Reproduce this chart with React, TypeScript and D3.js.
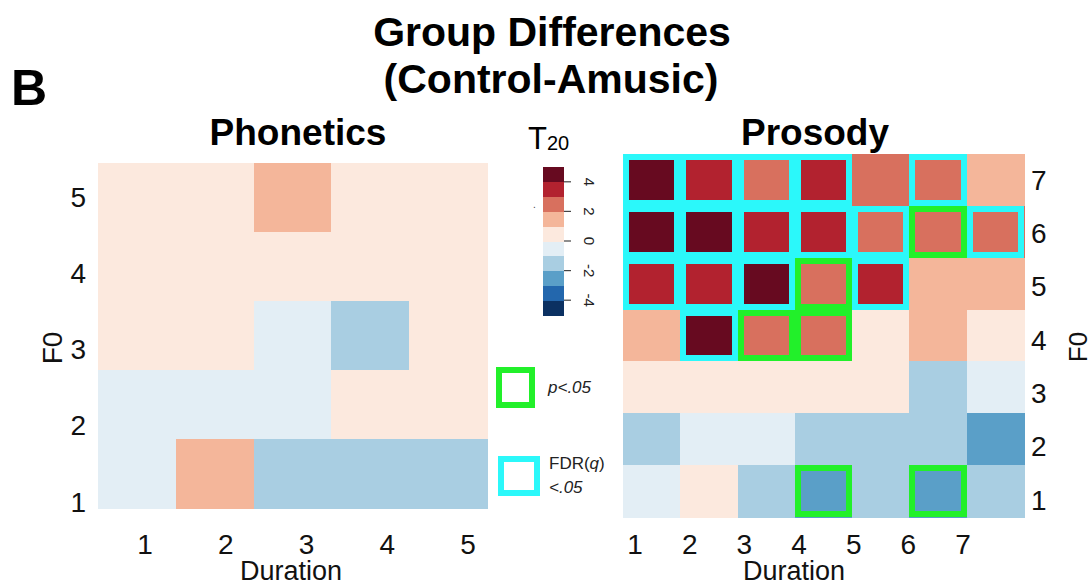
import React from "react";
import * as d3 from "d3";

// ---------- data ----------
const phonDuration = [1, 2, 3, 4, 5];
const phonF0 = [5, 4, 3, 2, 1]; // rows top -> bottom
const phoneticsT = [
  [0.4, 0.5, 1.3, 0.4, 0.3],
  [0.5, 0.4, 0.6, 0.3, 0.4],
  [0.3, 0.5, -0.4, -1.2, 0.5],
  [-0.6, -0.3, -0.5, 0.4, 0.3],
  [-0.5, 1.2, -1.3, -1.1, -1.4],
];

const prosDuration = [1, 2, 3, 4, 5, 6, 7];
const prosF0 = [7, 6, 5, 4, 3, 2, 1]; // rows top -> bottom
const prosodyT = [
  [4.6, 3.6, 2.4, 3.7, 2.5, 2.7, 1.5],
  [4.8, 4.3, 3.4, 3.5, 2.2, 2.3, 2.6],
  [3.8, 3.3, 4.2, 2.5, 3.2, 1.6, 1.3],
  [1.4, 4.1, 2.4, 2.6, 0.6, 1.4, 0.5],
  [0.4, 0.6, 0.3, 0.5, 0.7, -1.3, -0.6],
  [-1.2, -0.5, -0.4, -1.5, -1.1, -1.3, -2.4],
  [-0.6, 0.4, -1.2, -2.3, -1.5, -2.2, -1.3],
];
// 0 = n.s., 1 = p<.05, 2 = FDR(q)<.05
const prosodySig = [
  [2, 2, 2, 2, 0, 2, 0],
  [2, 2, 2, 2, 2, 1, 2],
  [2, 2, 2, 1, 2, 0, 0],
  [0, 2, 1, 1, 0, 0, 0],
  [0, 0, 0, 0, 0, 0, 0],
  [0, 0, 0, 0, 0, 0, 0],
  [0, 0, 0, 1, 0, 1, 0],
];

const palette = [
  "#0B3162", "#2367AD", "#5A9FC8", "#A9CEE2", "#E3EEF5",
  "#FCE9DE", "#F4B69A", "#D8705E", "#B2222F", "#670A20",
];
const colorTicks = [-4, -2, 0, 2, 4];

const FONT = "'Liberation Sans', Arial, Helvetica, sans-serif";
const GREEN = "#22F02A";
const CYAN = "#2BF8FA";

const color = d3.scaleQuantize<string>().domain([-5, 5]).range(palette);

function Heatmap(props: {
  values: number[][];
  sig?: number[][];
  cols: number[];
  rows: number[];
  x0: number; x1: number; y0: number; y1: number;
}) {
  const { values, sig, cols, rows, x0, x1, y0, y1 } = props;
  const x = d3.scaleBand<number>().domain(cols).range([x0, x1]);
  const y = d3.scaleBand<number>().domain(rows).range([y0, y1]);
  const sw = 6;
  const cells: any[] = [];
  const cyan: any[] = [];
  const green: any[] = [];
  rows.forEach((r, i) => {
    cols.forEach((c, j) => {
      const v = values[i][j];
      cells.push(
        <rect key={`c${i}-${j}`} x={x(c)!} y={y(r)!} width={x.bandwidth() + 0.6}
          height={y.bandwidth() + 0.6} fill={color(v)} />
      );
      const s = sig ? sig[i][j] : 0;
      if (s) {
        const el = (
          <rect key={`s${i}-${j}`} x={x(c)! + sw / 2} y={y(r)! + sw / 2}
            width={x.bandwidth() - sw} height={y.bandwidth() - sw}
            fill="none" stroke={s === 2 ? CYAN : GREEN} strokeWidth={sw} />
        );
        (s === 2 ? cyan : green).push(el);
      }
    });
  });
  return <g shapeRendering="crispEdges">{cells}{cyan}{green}</g>;
}

export default function App() {
  // tick label scales (labels in the figure are spaced independently of the cells)
  const lxLab = d3.scaleLinear().domain([1, 5]).range([145, 468]);
  const lyLab = d3.scaleLinear().domain([1, 5]).range([502, 197]);
  const rxLab = d3.scaleLinear().domain([1, 7]).range([635, 963]);
  const ryLab = d3.scaleLinear().domain([1, 7]).range([500, 180]);
  const cb = d3.scaleLinear().domain([-5, 5]).range([315, 167]);
  const binEdges = d3.range(-5, 5, 1);

  const tick = { fontFamily: FONT, fontSize: 28, fill: "#111" } as const;

  return (
    <svg width={1092} height={586} style={{ position: "absolute", left: 0, top: 0 }}
      fontFamily={FONT}>
      <rect width={1092} height={586} fill="#fff" />
      {/* titles */}
      <text x={552} y={46} textAnchor="middle" fontWeight="bold" fontSize={41}>Group Differences</text>
      <text x={551} y={93} textAnchor="middle" fontWeight="bold" fontSize={41}>(Control-Amusic)</text>
      <text x={11} y={105} fontWeight="bold" fontSize={50}>B</text>
      <text x={298} y={145} textAnchor="middle" fontWeight="bold" fontSize={37}>Phonetics</text>
      <text x={815} y={145} textAnchor="middle" fontWeight="bold" fontSize={37}>Prosody</text>

      {/* Phonetics heatmap */}
      <Heatmap values={phoneticsT} cols={phonDuration} rows={phonF0} x0={98} x1={487} y0={163} y1={508} />
      {phonDuration.map((d) => (
        <text key={`plx${d}`} x={lxLab(d)} y={554} textAnchor="middle" {...tick}>{d}</text>
      ))}
      {[1, 2, 3, 4, 5].map((d) => (
        <text key={`ply${d}`} x={86} y={lyLab(d)} textAnchor="end" dominantBaseline="central" {...tick}>{d}</text>
      ))}
      <text x={291} y={580} textAnchor="middle" {...tick} fontSize={27}>Duration</text>
      <text transform="translate(52,348) rotate(-90)" textAnchor="middle" dominantBaseline="central" {...tick}>F0</text>

      {/* Prosody heatmap */}
      <Heatmap values={prosodyT} sig={prosodySig} cols={prosDuration} rows={prosF0} x0={623} x1={1024} y0={154} y1={517} />
      {prosDuration.map((d) => (
        <text key={`prx${d}`} x={rxLab(d)} y={554} textAnchor="middle" {...tick}>{d}</text>
      ))}
      {[1, 2, 3, 4, 5, 6, 7].map((d) => (
        <text key={`pry${d}`} x={1031} y={ryLab(d)} textAnchor="start" dominantBaseline="central" {...tick}>{d}</text>
      ))}
      <text x={794} y={580} textAnchor="middle" {...tick} fontSize={27}>Duration</text>
      <text transform="translate(1078,347) rotate(-90)" textAnchor="middle" dominantBaseline="central" {...tick} fontSize={26}>F0</text>

      {/* colour bar */}
      <text x={528} y={149} fontSize={31}>T</text>
      <text x={547} y={150} fontSize={20}>20</text>
      <g shapeRendering="crispEdges">
        {binEdges.map((e) => (
          <rect key={`cb${e}`} x={543} y={cb(e + 1)} width={21} height={cb(e) - cb(e + 1) + 0.5} fill={color(e + 0.5)} />
        ))}
      </g>
      {colorTicks.map((t) => (
        <g key={`ct${t}`}>
          <line x1={564} x2={571} y1={cb(t)} y2={cb(t)} stroke="#444" strokeWidth={1.2} />
          <text transform={`translate(589,${cb(t)}) rotate(90)`} textAnchor="middle"
            dominantBaseline="central" fontSize={15} fill="#222">{t}</text>
        </g>
      ))}
      <text x={533} y={208} fontSize={10} fill="#444">.</text>

      {/* significance legend */}
      <rect x={499} y={370} width={33} height={35} fill="none" stroke={GREEN} strokeWidth={6} />
      <text x={548} y={393} fontSize={17} fontStyle="italic" fill="#222">p&lt;.05</text>
      <rect x={501} y={459} width={36} height={34} fill="none" stroke={CYAN} strokeWidth={6} />
      <text x={549} y={469} fontSize={17} fill="#222">FDR(<tspan fontStyle="italic">q</tspan>)</text>
      <text x={549} y={493} fontSize={17} fontStyle="italic" fill="#222">&lt;.05</text>
    </svg>
  );
}
